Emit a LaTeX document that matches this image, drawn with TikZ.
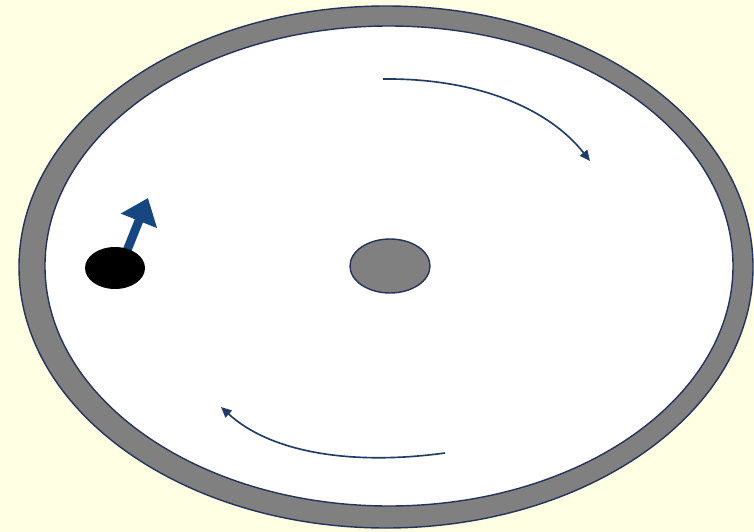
\documentclass[tikz,border=0pt]{standalone}
\usepackage{tikz}
\usetikzlibrary{arrows.meta,shapes.geometric}
\definecolor{Paper}{HTML}{FFFFE3}
\definecolor{Rim}{HTML}{808080}
\definecolor{Edge}{HTML}{24335A}
\definecolor{Navy}{HTML}{1F3C66}
\definecolor{Push}{HTML}{184680}

\begin{document}
\begin{tikzpicture}[x=0.03cm,y=-0.03cm,
  spin/.style={Navy,line width=1.4pt,-{Triangle[length=9pt,width=8pt]}},
  kick/.style={Push,line width=7.5pt,-{Triangle[length=21pt,width=32pt]}}]
  \fill[Paper] (0,0) rectangle (754,532);
  \useasboundingbox (0,0) rectangle (754,532);
  % table
  \filldraw[fill=Rim,draw=Edge,line width=1.2pt] (386,267) ellipse [x radius=367, y radius=261];
  \filldraw[fill=white,draw=Edge,line width=1.2pt] (389,266) ellipse [x radius=344, y radius=240];
  \filldraw[fill=Rim,draw=Edge,line width=1.2pt] (390,266) ellipse [x radius=40, y radius=27];
  % puck and push
  \coordinate (tip) at (148,198);
  \draw[kick] (124,258) -- (tip);
  \node[ellipse,fill=black,inner sep=0pt,minimum width=1.8cm,minimum height=1.26cm] (puck) at (115,268) {};
  % rotation
  \draw[spin] (383,79) .. controls (480,78) and (550,110) .. (590,161);
  \draw[spin] (445,453) .. controls (350,466) and (270,452) .. (221,407);
\end{tikzpicture}
\end{document}
